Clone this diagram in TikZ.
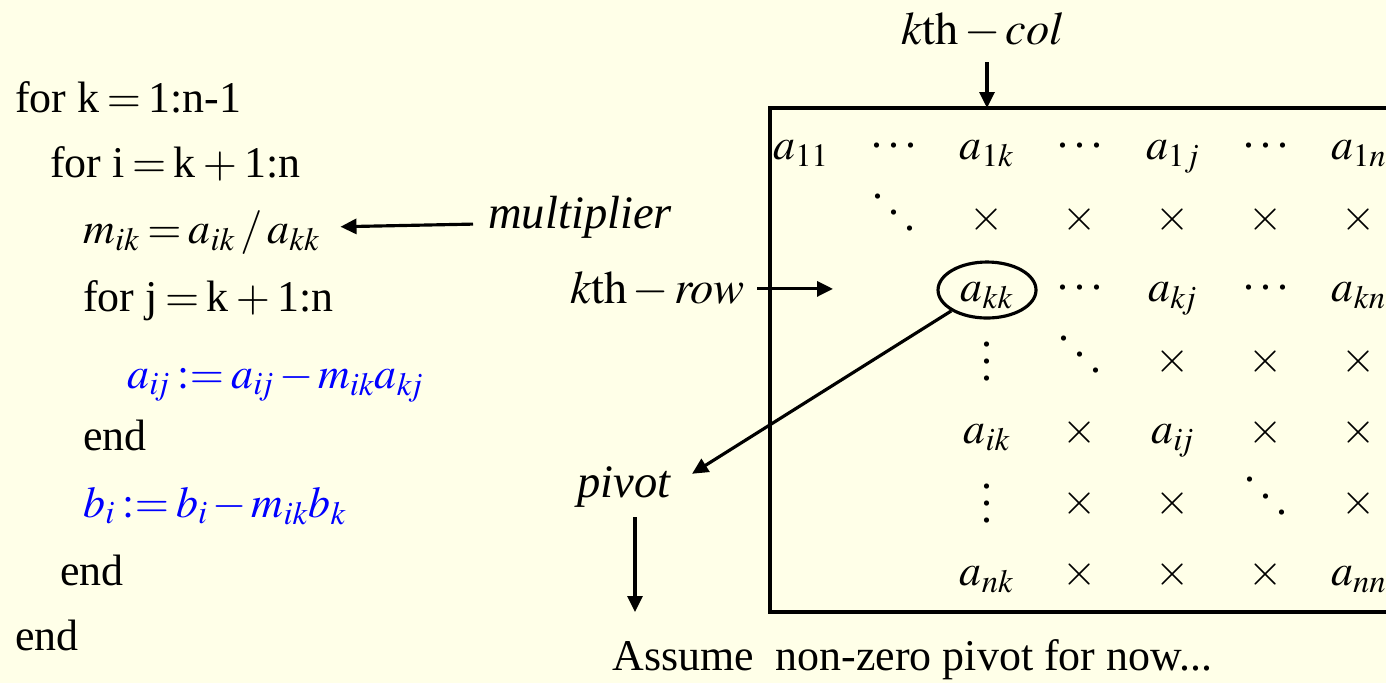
\documentclass[tikz,border=0pt]{standalone}
\usepackage{mathptmx}
\usepackage{fontspec}
\setmainfont{Liberation Serif}
\usetikzlibrary{arrows.meta,matrix,shapes.geometric}

\definecolor{slidebg}{RGB}{255,255,232}
\definecolor{codeblue}{RGB}{0,0,255}
\thickmuskip=3mu
\medmuskip=2mu

% larger dots, as in the slide
\newcommand{\slidevdots}{\vcenter{\baselineskip=0.38em \lineskiplimit=0pt
  \hbox{.}\hbox{.}\hbox{.}}}
\newcommand{\slideddots}{\mathinner{\raisebox{0.74em}{.}\kern0.12em
  \raisebox{0.37em}{.}\kern0.12em\raisebox{0em}{.}}}
\newcommand{\slidecdots}{\mathinner{\raisebox{0.28em}{.\kern0.14em.\kern0.14em.}}}

\tikzset{
  code/.style={anchor=base west, inner sep=0pt, font=\fontsize{25}{30}\selectfont},
  lbl/.style={inner sep=0pt, font=\fontsize{26.5}{32}\selectfont},
  cell/.style={text height=0.9cm, text depth=0.52cm, text width=1.86cm, align=center,
               inner sep=0pt, font=\fontsize{25}{30}\selectfont},
  arr/.style={line width=1.8pt, -{Triangle[length=0.32cm,width=0.3cm]}},
}

\begin{document}
\begin{tikzpicture}[x=0.02cm,y=-0.02cm]

% Page and background
\useasboundingbox (0,0) rectangle (1386,683);
\clip (0,0) rectangle (1386,683);
\fill[slidebg] (0,0) rectangle (1386,683);

% Algorithm
\node[code] (l1) at (15,112) {for k\,$=$\,1:n-1};
\node[code] (l2) at (50,177) {for i\,$=$\,k\,$+$\,1:n};
\node[code] (l3) at (83,243) {$m_{ik} = a_{ik} \,/\, a_{kk}$};
\node[code] (l4) at (83,311) {for j\,$=$\,k\,$+$\,1:n};
\node[code, text=codeblue] (l5) at (127,388)
  {$a_{i\!j} \mathrel{:=} a_{i\!j} - m_{ik}a_{k\!j}$};
\node[code] (l6) at (83,450) {end};
\node[code, text=codeblue] (l7) at (83,517) {$b_i \mathrel{:=} b_i - m_{ik}b_k$};
\node[code] (l8) at (60,585) {end};
\node[code] (l9) at (15,650) {end};

% Labels
\node[lbl, anchor=base west] (mult) at (488,228) {\textit{multiplier}};
\node[lbl, anchor=base east] (rowlbl) at (745,303) {$k\mathrm{th}-\mathit{row}$};
\node[lbl, anchor=base] (collbl) at (982,44) {$k\mathrm{th}-\mathit{col}$};
\node[lbl, anchor=base west] (piv) at (577,497) {\textit{pivot}};
\node[code] (note) at (612,670) {Assume\ \ non-zero pivot for now...};

% Matrix frame
\coordinate (boxtl) at (770,108);
\coordinate (boxbr) at (1420,612);
\draw[line width=2pt] (boxtl) rectangle (boxbr);

% Matrix entries
\matrix (M) [matrix of math nodes, nodes={cell}, column sep=0pt, row sep=0pt,
             inner sep=0pt] at (1080,363) {
  a_{11} & \slidecdots & a_{1k} & \slidecdots & a_{1j} & \slidecdots & a_{1n} \\
         & \slideddots & \times & \times & \times & \times & \times \\
         &        & a_{kk} & \slidecdots & a_{k\!j} & \slidecdots & a_{kn} \\
         &        & \slidevdots & \slideddots & \times & \times & \times \\
         &        & a_{ik} & \times & a_{i\!j} & \times & \times \\
         &        & \slidevdots & \times & \times & \slideddots & \times \\
         &        & a_{nk} & \times & \times & \times & a_{nn} \\
};

% Pivot ring
\node[draw, ellipse, line width=1.8pt, minimum width=1.96cm, minimum height=1.12cm]
  (ring) at ([yshift=0.04cm]M-3-3) {};

% Arrows
\coordinate (rowtip) at (833,291);
\coordinate (pivtip) at (635,612);
\draw[arr, shorten <=0.3cm, shorten >=0.4cm]
  ([yshift=-0.14cm]mult.west) -- ([yshift=0.1cm]l3.east);
\draw[arr, shorten <=0.24cm] (rowlbl.east) -- (rowlbl.east -| rowtip);
\draw[arr, shorten <=0.28cm] (collbl.south -| M-1-3) -- (M-1-3 |- boxtl);
\draw[arr, shorten >=0.48cm] (ring.south west) -- (piv.east);
\draw[arr, shorten <=0.2cm] (piv.south -| pivtip) -- (pivtip);

\end{tikzpicture}
\end{document}
